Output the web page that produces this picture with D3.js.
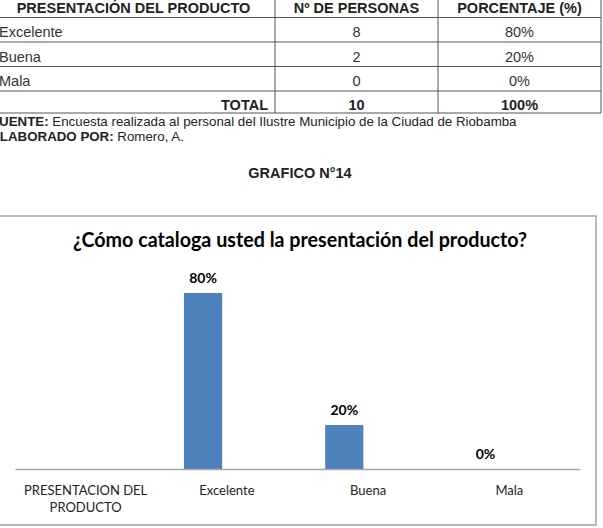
<!DOCTYPE html>
<html>
<head>
<meta charset="utf-8">
<script src="https://cdn.jsdelivr.net/npm/d3@7"></script>
<style>
    body { margin: 0; background: #fff; }
    svg { display: block; }
</style>
</head>
<body>
<svg id="vis"></svg>
<script>
// table data
const opciones = ['Excelente', 'Buena', 'Mala'];
const personas = [8, 2, 0];
const porcentajeTexto = ['80%', '20%', '0%'];
const encabezados = ['PRESENTACIÓN DEL PRODUCTO', 'Nº DE PERSONAS', 'PORCENTAJE (%)'];
const totalFila = ['TOTAL', '10', '100%'];

// chart data
const categorias = ['PRESENTACION DEL PRODUCTO', 'Excelente', 'Buena', 'Mala'];
const porcentajes = [null, 0.8, 0.2, 0];
const series = ['porcentaje', 'vacio'];

const W = 603, H = 528;
const svg = d3.select('#vis').attr('width', W).attr('height', H);

// ---------- table ----------
const colX = [-8, 275, 438, 601];
const rowY = [-7, 17.5, 42, 66.5, 91, 113];
const tabla = svg.append('g');

tabla.selectAll('line.h')
    .data(rowY)
    .join('line')
    .attr('x1', colX[0]).attr('x2', colX[3])
    .attr('y1', d => d).attr('y2', d => d)
    .attr('stroke', '#555').attr('stroke-width', 1);

tabla.selectAll('line.v')
    .data(colX)
    .join('line')
    .attr('x1', d => d).attr('x2', d => d)
    .attr('y1', rowY[0]).attr('y2', rowY[5])
    .attr('stroke', '#555').attr('stroke-width', 1);

const celdaFont = 'Liberation Sans, Arial, sans-serif';
const tam = '14.5px';
const mid = i => (colX[i] + colX[i + 1]) / 2;

tabla.selectAll('text.head')
    .data(encabezados)
    .join('text')
    .attr('x', (d, i) => mid(i))
    .attr('y', 13)
    .attr('text-anchor', 'middle')
    .style('font', `bold ${tam} ${celdaFont}`)
    .attr('fill', '#222')
    .text(d => d);

const filas = opciones.map((o, i) => [o, String(personas[i]), porcentajeTexto[i]]);
filas.forEach((fila, r) => {
    const base = rowY[r + 1] + 19.5;
    tabla.append('text').attr('x', -1).attr('y', base)
        .style('font', `${tam} ${celdaFont}`).attr('fill', '#333').text(fila[0]);
    tabla.append('text').attr('x', mid(1)).attr('y', base).attr('text-anchor', 'middle')
        .style('font', `${tam} ${celdaFont}`).attr('fill', '#333').text(fila[1]);
    tabla.append('text').attr('x', mid(2)).attr('y', base).attr('text-anchor', 'middle')
        .style('font', `${tam} ${celdaFont}`).attr('fill', '#333').text(fila[2]);
});

tabla.append('text').attr('x', 268).attr('y', 110).attr('text-anchor', 'end')
    .style('font', `bold ${tam} ${celdaFont}`).attr('fill', '#222').text(totalFila[0]);
tabla.append('text').attr('x', mid(1)).attr('y', 110).attr('text-anchor', 'middle')
    .style('font', `bold ${tam} ${celdaFont}`).attr('fill', '#222').text(totalFila[1]);
tabla.append('text').attr('x', mid(2)).attr('y', 110).attr('text-anchor', 'middle')
    .style('font', `bold ${tam} ${celdaFont}`).attr('fill', '#222').text(totalFila[2]);

// notes under the table (left edge cropped like the scan)
const nota1 = svg.append('text').attr('x', -9).attr('y', 126)
    .style('font', `13.3px ${celdaFont}`).attr('fill', '#222');
nota1.append('tspan').style('font-weight', 'bold').text('FUENTE:');
nota1.append('tspan').text(' Encuesta realizada al personal del Ilustre Municipio de la Ciudad de Riobamba');

const nota2 = svg.append('text').attr('x', -9).attr('y', 141)
    .style('font', `13.3px ${celdaFont}`).attr('fill', '#222');
nota2.append('tspan').style('font-weight', 'bold').text('ELABORADO POR:');
nota2.append('tspan').text(' Romero, A.');

svg.append('text').attr('x', 300).attr('y', 178).attr('text-anchor', 'middle')
    .style('font', `bold 14.5px ${celdaFont}`).attr('fill', '#222').text('GRAFICO N°14');

// ---------- chart ----------
const chartFont = 'Lato, "Open Sans", sans-serif';

svg.append('rect')
    .attr('x', -1).attr('y', 216)
    .attr('width', 597).attr('height', 309)
    .attr('fill', 'none').attr('stroke', '#8c8c8c').attr('stroke-width', 1.2);

svg.append('text')
    .attr('x', 300).attr('y', 247)
    .attr('text-anchor', 'middle')
    .style('font', `bold 20px ${chartFont}`)
    .attr('fill', '#000')
    .attr('textLength', 454).attr('lengthAdjust', 'spacingAndGlyphs')
    .text('¿Cómo cataloga usted la presentación del producto?');

const xScale = d3.scaleBand()
    .domain(categorias)
    .range([15, 580]);

const xSub = d3.scaleBand()
    .domain(series)
    .range([0, xScale.bandwidth()])
    .paddingInner(0.2)
    .paddingOuter(0.58);

const yScale = d3.scaleLinear()
    .domain([0, 1])
    .range([469, 249]);

const datos = categorias.map((c, i) => ({ cat: c, valor: porcentajes[i] }));

svg.append('g')
    .selectAll('rect')
    .data(datos.filter(d => d.valor !== null))
    .join('rect')
    .attr('x', d => xScale(d.cat) + xSub('porcentaje'))
    .attr('y', d => yScale(d.valor))
    .attr('width', xSub.bandwidth())
    .attr('height', d => yScale(0) - yScale(d.valor))
    .attr('fill', '#4f81bd');

svg.append('g')
    .selectAll('text')
    .data(datos.filter(d => d.valor !== null))
    .join('text')
    .attr('x', d => xScale(d.cat) + xSub('porcentaje') + xSub.bandwidth() / 2)
    .attr('y', d => yScale(d.valor) - 10)
    .attr('text-anchor', 'middle')
    .style('font', `bold 14px ${chartFont}`)
    .attr('fill', '#000')
    .text(d => d3.format('.0%')(d.valor));

const xAxis = d3.axisBottom(xScale).tickSize(0).tickPadding(0);
const xAxisGroup = svg.append('g')
    .attr('transform', `translate(0, ${yScale(0)})`)
    .call(xAxis);

xAxisGroup.select('.domain').attr('stroke', '#a6a6a6').attr('stroke-width', 1.5);

xAxisGroup.selectAll('.tick text')
    .style('font', `13px ${chartFont}`)
    .attr('fill', '#222')
    .attr('dy', null)
    .attr('y', 26)
    .each(function(d) {
        const t = d3.select(this);
        const palabras = d.split(' ');
        if (palabras.length > 2) {
            t.text(null);
            t.append('tspan').attr('x', 0).text(palabras.slice(0, 2).join(' '));
            t.append('tspan').attr('x', 0).attr('dy', 17).text(palabras.slice(2).join(' '));
        }
    });
</script>
</body>
</html>
